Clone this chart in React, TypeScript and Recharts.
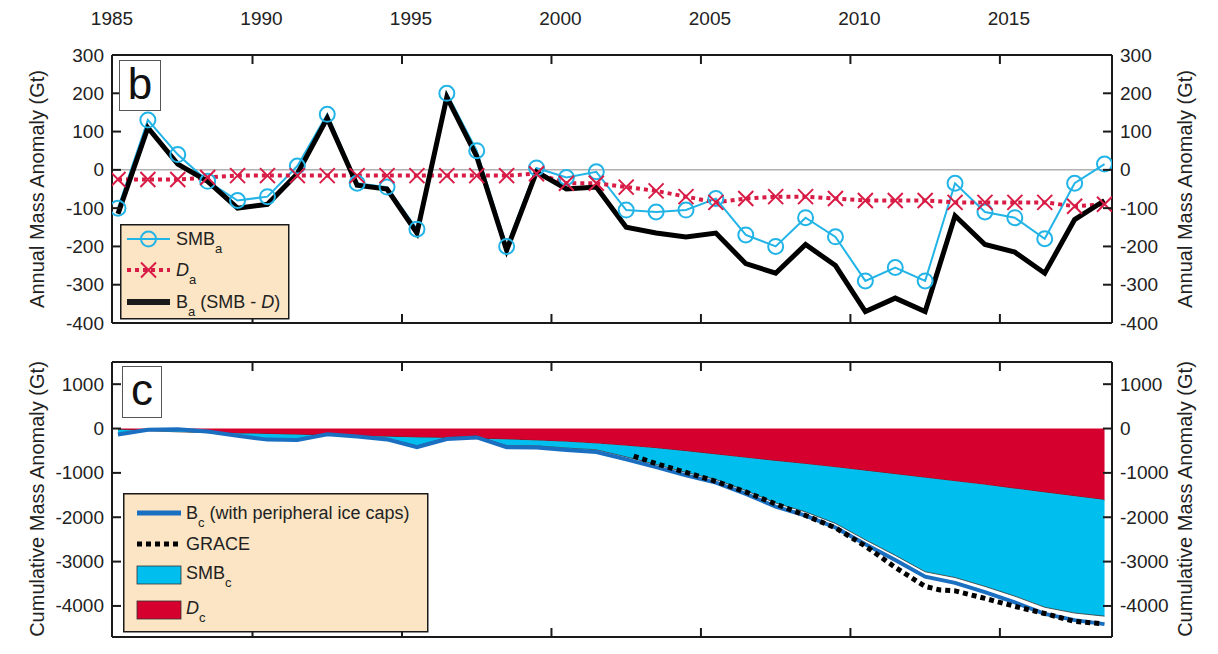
import React from 'react'
import { ComposedChart, Line, Area, XAxis, YAxis, ReferenceLine, Legend } from 'recharts'

// mid-year positions of the annual values
const YEARS = [
  1985.5, 1986.5, 1987.5, 1988.5, 1989.5, 1990.5, 1991.5, 1992.5, 1993.5, 1994.5,
  1995.5, 1996.5, 1997.5, 1998.5, 1999.5, 2000.5, 2001.5, 2002.5, 2003.5, 2004.5,
  2005.5, 2006.5, 2007.5, 2008.5, 2009.5, 2010.5, 2011.5, 2012.5, 2013.5, 2014.5,
  2015.5, 2016.5, 2017.5, 2018.5,
]

// annual anomalies (Gt)
const SMB_A = [
  -100, 130, 40, -30, -80, -70, 10, 145, -35, -45,
  -155, 200, 50, -200, 5, -20, -5, -105, -110, -105,
  -75, -170, -200, -125, -175, -290, -255, -290, -35, -110,
  -125, -180, -35, 15,
]
const D_A = [
  -25, -25, -25, -20, -15, -15, -15, -15, -15, -15,
  -15, -15, -15, -15, -10, -35, -35, -45, -55, -70,
  -85, -75, -70, -70, -75, -80, -80, -80, -85, -85,
  -85, -85, -95, -90,
]
const B_A = [
  -115, 110, 15, -30, -100, -90, -10, 135, -40, -50,
  -165, 190, 35, -210, -5, -50, -45, -150, -165, -175,
  -165, -245, -270, -195, -250, -370, -335, -370, -120, -195,
  -215, -270, -130, -80,
]

// cumulative anomalies (Gt)
const D_C = [
  -25, -50, -75, -95, -110, -125, -140, -155, -170, -185,
  -200, -215, -230, -245, -270, -300, -340, -390, -445, -510,
  -585, -660, -730, -800, -875, -950, -1030, -1110, -1190, -1270,
  -1355, -1440, -1525, -1610,
]
const SMB_C = [
  -100, 30, 70, 40, -40, -110, -100, 45, 10, -35,
  -190, 10, 60, -140, -120, -140, -140, -250, -365, -480,
  -565, -740, -950, -1080, -1265, -1560, -1830, -2120, -2170, -2290,
  -2425, -2590, -2635, -2620,
]
const B_C = [
  -135, -30, -15, -65, -165, -250, -260, -130, -180, -245,
  -420, -235, -200, -420, -430, -485, -530, -695, -870, -1055,
  -1220, -1475, -1760, -1965, -2230, -2610, -2965, -3340, -3480, -3690,
  -3920, -4180, -4320, -4410,
]

const GRACE_YEARS = [
  2002.75, 2003.5, 2004.5, 2005.5, 2006.5, 2007.5, 2008.5, 2009.5, 2010.5,
  2011.5, 2012.5, 2013.0, 2013.5, 2014.5, 2015.5, 2016.5, 2017.5, 2018.4,
]
const GRACE = [
  -620, -790, -990, -1190, -1430, -1700, -1960, -2240, -2650,
  -3130, -3560, -3640, -3660, -3830, -4010, -4170, -4350, -4400,
]

const YEAR_LABELS = [1985, 1990, 1995, 2000, 2005, 2010, 2015]
const YEAR_TICKS = [1990, 1995, 2000, 2005, 2010, 2015]
const ANNUAL_TICKS = [-400, -300, -200, -100, 0, 100, 200, 300]
const CUMUL_TICKS = [-4000, -3000, -2000, -1000, 0, 1000]

const X_DOMAIN: [number, number] = [1985.3, 2018.75]
const LABEL_DOMAIN: [number, number] = [1985, 2018.45]

const annual = YEARS.map((year, i) => ({ year, smb: SMB_A[i], d: D_A[i], b: B_A[i] }))
const cumulative = YEARS.map((year, i) => ({ year, d: D_C[i], smb: SMB_C[i], b: B_C[i] }))
const grace = GRACE_YEARS.map((year, i) => ({ year, grace: GRACE[i] }))

const FONT = '"Liberation Sans", Arial, Helvetica, sans-serif'
const INK = '#1a1a1a'
const CYAN = '#22b4e6'
const RED = '#d81c46'
const RED_FILL = '#d6002e'
const CYAN_FILL = '#00bfef'
const BLUE = '#1a6fc0'
const BEIGE = '#fbe5c4'
const TICK_LEN = 9
const AXIS_LINE = { stroke: INK, strokeWidth: 2 }

// inward frame ticks, labels outside the frame
const leftTick = (p: any) => (
  <g>
    <line x1={p.x} y1={p.y} x2={p.x + TICK_LEN} y2={p.y} stroke={INK} strokeWidth={2} />
    <text x={p.x - 8} y={p.y} textAnchor="end" dominantBaseline="central" fontSize={19} fill="#222" fontFamily={FONT}>
      {p.payload.value}
    </text>
  </g>
)
const rightTick = (p: any) => (
  <g>
    <line x1={p.x - TICK_LEN} y1={p.y} x2={p.x} y2={p.y} stroke={INK} strokeWidth={2} />
    <text x={p.x + 8} y={p.y} textAnchor="start" dominantBaseline="central" fontSize={19} fill="#222" fontFamily={FONT}>
      {p.payload.value}
    </text>
  </g>
)
const topTick = (p: any) => <line x1={p.x} y1={p.y} x2={p.x} y2={p.y + TICK_LEN} stroke={INK} strokeWidth={2} />
const bottomTick = (p: any) => <line x1={p.x} y1={p.y - TICK_LEN} x2={p.x} y2={p.y} stroke={INK} strokeWidth={2} />
const yearLabel = (p: any) => (
  <text x={p.x} y={p.y - 22} textAnchor="middle" dominantBaseline="central" fontSize={19} fill="#222" fontFamily={FONT}>
    {p.payload.value}
  </text>
)

const XMark = ({ cx, cy, size = 7.5, color = RED }: { cx: number; cy: number; size?: number; color?: string }) => (
  <path
    d={`M${cx - size},${cy - size}L${cx + size},${cy + size}M${cx - size},${cy + size}L${cx + size},${cy - size}`}
    stroke={color}
    strokeWidth={2}
    fill="none"
  />
)

const AnnualLegend = () => (
  <svg width={170} height={96} style={{ display: 'block', fontFamily: FONT }}>
    <rect x={0.75} y={0.75} width={168} height={94} fill={BEIGE} stroke={INK} strokeWidth={1.5} />
    <line x1={7} y1={15} x2={50} y2={15} stroke={CYAN} strokeWidth={2} />
    <circle cx={28.5} cy={15} r={7.5} stroke={CYAN} strokeWidth={2} fill="none" />
    <text x={56} y={21} fontSize={18} fill="#222">
      SMB<tspan fontSize={13} dy={8}>a</tspan>
    </text>
    <line x1={7} y1={46} x2={50} y2={46} stroke={RED} strokeWidth={4} strokeDasharray="4 4" />
    <XMark cx={28.5} cy={46} />
    <text x={56} y={52} fontSize={18} fill="#222">
      <tspan fontStyle="italic">D</tspan>
      <tspan fontSize={13} dy={8}>a</tspan>
    </text>
    <line x1={7} y1={78} x2={50} y2={78} stroke={INK} strokeWidth={6} />
    <text x={56} y={84} fontSize={18} fill="#222">
      B<tspan fontSize={13} dy={8}>a</tspan>
      <tspan dy={-8}> (SMB - </tspan>
      <tspan fontStyle="italic">D</tspan>)
    </text>
  </svg>
)

const CumulLegend = () => (
  <svg width={306} height={140} style={{ display: 'block', fontFamily: FONT }}>
    <rect x={0.75} y={0.75} width={304} height={138} fill={BEIGE} stroke={INK} strokeWidth={1.5} />
    <line x1={14} y1={20} x2={58} y2={20} stroke={BLUE} strokeWidth={5} />
    <text x={63} y={26} fontSize={18} fill="#222">
      B<tspan fontSize={13} dy={8}>c</tspan>
      <tspan dy={-8}> (with peripheral ice caps)</tspan>
    </text>
    <line x1={14} y1={51} x2={58} y2={51} stroke="#000" strokeWidth={5} strokeDasharray="5 4" />
    <text x={63} y={57} fontSize={18} fill="#222">GRACE</text>
    <rect x={14} y={73} width={44} height={18} fill={CYAN_FILL} stroke="#333" strokeWidth={0.8} />
    <text x={63} y={86} fontSize={18} fill="#222">
      SMB<tspan fontSize={13} dy={8}>c</tspan>
    </text>
    <rect x={14} y={108} width={44} height={18} fill={RED_FILL} stroke="#333" strokeWidth={0.8} />
    <text x={63} y={121} fontSize={18} fill="#222">
      <tspan fontStyle="italic">D</tspan>
      <tspan fontSize={13} dy={8}>c</tspan>
    </text>
  </svg>
)

const AxisTitle = ({ text, cx, cy }: { text: string; cx: number; cy: number }) => (
  <div
    style={{
      position: 'absolute',
      left: cx - 200,
      top: cy - 12,
      width: 400,
      height: 24,
      lineHeight: '24px',
      textAlign: 'center',
      fontSize: 20,
      color: '#222',
      transform: 'rotate(-90deg)',
      whiteSpace: 'nowrap',
    }}
  >
    {text}
  </div>
)

const PanelTag = ({ letter, left, top, width, height }: { letter: string; left: number; top: number; width: number; height: number }) => (
  <div
    style={{
      position: 'absolute',
      left,
      top,
      width,
      height,
      boxSizing: 'border-box',
      border: '1.5px solid #555',
      background: '#fff',
      fontSize: 44,
      lineHeight: `${height - 6}px`,
      textAlign: 'center',
      color: '#111',
    }}
  >
    {letter}
  </div>
)

export default function App() {
  return (
    <div style={{ position: 'absolute', left: 0, top: 0, width: 1218, height: 654, background: '#fff', fontFamily: FONT, overflow: 'hidden' }}>
      {/* year labels along the top of the figure */}
      <div style={{ position: 'absolute', left: 0, top: 0 }}>
        <ComposedChart width={1218} height={40} data={annual} margin={{ top: 0, right: 106, bottom: 0, left: 112 }}>
          <XAxis xAxisId="lbl" orientation="top" type="number" dataKey="year" domain={LABEL_DOMAIN} ticks={YEAR_LABELS} interval={0}
            height={40} tickSize={0} tickMargin={0} tickLine={false} axisLine={false} tick={yearLabel} allowDataOverflow />
        </ComposedChart>
      </div>

      <div style={{ position: 'absolute', left: 0, top: 0 }}>
        <ComposedChart width={1218} height={340} data={annual} margin={{ top: 54, right: 0, bottom: 0, left: 0 }}>
          <XAxis xAxisId="frame" orientation="top" type="number" dataKey="year" domain={X_DOMAIN} ticks={YEAR_TICKS} interval={0}
            height={1} tickSize={0} tickMargin={0} tickLine={false} axisLine={AXIS_LINE} tick={topTick} allowDataOverflow />
          <XAxis xAxisId="x" orientation="bottom" type="number" dataKey="year" domain={X_DOMAIN} ticks={YEAR_TICKS} interval={0}
            height={17} tickSize={0} tickMargin={0} tickLine={false} axisLine={AXIS_LINE} tick={bottomTick} allowDataOverflow />
          <YAxis yAxisId="y" orientation="left" type="number" domain={[-400, 300]} ticks={ANNUAL_TICKS} interval={0}
            width={112} tickSize={0} tickMargin={0} tickLine={false} axisLine={AXIS_LINE} tick={leftTick} allowDataOverflow />
          <YAxis yAxisId="yr" orientation="right" type="number" domain={[-400, 300]} ticks={ANNUAL_TICKS} interval={0}
            width={106} tickSize={0} tickMargin={0} tickLine={false} axisLine={AXIS_LINE} tick={rightTick} allowDataOverflow />
          <ReferenceLine xAxisId="x" yAxisId="y" y={0} stroke="#8a8a8a" strokeWidth={1} />
          <Line xAxisId="x" yAxisId="y" type="linear" dataKey="smb" stroke={CYAN} strokeWidth={2}
            dot={{ r: 7.5, stroke: CYAN, strokeWidth: 2, fill: 'none' }} isAnimationActive={false} />
          <Line xAxisId="x" yAxisId="y" type="linear" dataKey="d" stroke={RED} strokeWidth={4} strokeDasharray="4 4"
            dot={(p: any) => <XMark key={`x-${p.index}`} cx={p.cx} cy={p.cy} />} isAnimationActive={false} />
          <Line xAxisId="x" yAxisId="y" type="linear" dataKey="b" stroke="#000" strokeWidth={5} strokeLinejoin="miter"
            dot={false} isAnimationActive={false} />
          <Legend verticalAlign="middle" align="center" content={<AnnualLegend />}
            wrapperStyle={{ left: 120, top: 224, width: 170, height: 96 }} />
        </ComposedChart>
      </div>

      <div style={{ position: 'absolute', left: 0, top: 340 }}>
        <ComposedChart width={1218} height={314} data={cumulative} margin={{ top: 0, right: 0, bottom: 0, left: 0 }}>
          <XAxis xAxisId="frame" orientation="top" type="number" dataKey="year" domain={X_DOMAIN} ticks={YEAR_TICKS} interval={0}
            height={22} tickSize={0} tickMargin={0} tickLine={false} axisLine={AXIS_LINE} tick={topTick} allowDataOverflow />
          <XAxis xAxisId="x" orientation="bottom" type="number" dataKey="year" domain={X_DOMAIN} ticks={YEAR_TICKS} interval={0}
            height={17} tickSize={0} tickMargin={0} tickLine={false} axisLine={AXIS_LINE} tick={bottomTick} allowDataOverflow />
          <YAxis yAxisId="y" orientation="left" type="number" domain={[-4700, 1500]} ticks={CUMUL_TICKS} interval={0}
            width={112} tickSize={0} tickMargin={0} tickLine={false} axisLine={AXIS_LINE} tick={leftTick} allowDataOverflow />
          <YAxis yAxisId="yr" orientation="right" type="number" domain={[-4700, 1500]} ticks={CUMUL_TICKS} interval={0}
            width={106} tickSize={0} tickMargin={0} tickLine={false} axisLine={AXIS_LINE} tick={rightTick} allowDataOverflow />
          <Area xAxisId="x" yAxisId="y" type="linear" dataKey="d" stackId="c" fill={RED_FILL} fillOpacity={1}
            stroke="#333" strokeWidth={0.8} isAnimationActive={false} />
          <Area xAxisId="x" yAxisId="y" type="linear" dataKey="smb" stackId="c" fill={CYAN_FILL} fillOpacity={1}
            stroke="#333" strokeWidth={0.8} isAnimationActive={false} />
          <Line xAxisId="x" yAxisId="y" type="linear" dataKey="b" stroke={BLUE} strokeWidth={4} dot={false} isAnimationActive={false} />
          <Line xAxisId="x" yAxisId="y" type="linear" data={grace} dataKey="grace" stroke="#000" strokeWidth={5}
            strokeDasharray="5 4" dot={false} isAnimationActive={false} />
          <Legend verticalAlign="middle" align="center" content={<CumulLegend />}
            wrapperStyle={{ left: 123, top: 153, width: 306, height: 140 }} />
        </ComposedChart>
      </div>

      <AxisTitle text="Annual Mass Anomaly (Gt)" cx={37} cy={189} />
      <AxisTitle text="Annual Mass Anomaly (Gt)" cx={1185} cy={189} />
      <AxisTitle text="Cumulative Mass Anomaly (Gt)" cx={37} cy={499} />
      <AxisTitle text="Cumulative Mass Anomaly (Gt)" cx={1185} cy={499} />

      <PanelTag letter="b" left={119} top={60} width={42} height={51} />
      <PanelTag letter="c" left={122} top={366} width={40} height={52} />
    </div>
  )
}
